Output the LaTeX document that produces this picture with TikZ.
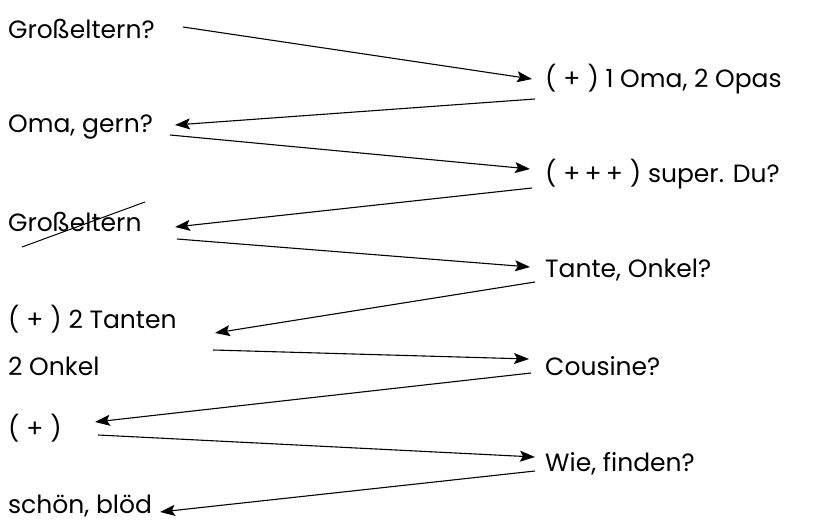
\documentclass[tikz,border=0pt]{standalone}
\usepackage{fontspec}
\setmainfont{Poppins}
\newcommand\pl[1]{(\;#1\;)}
\usetikzlibrary{arrows.meta}

\begin{document}
\begin{tikzpicture}[x=1pt,y=-1pt,
  word/.style={anchor=base west,inner sep=0pt,font=\fontsize{25}{30}\selectfont},
  arr/.style={line width=1.1pt,-{Stealth[length=15pt,width=11pt,inset=3pt]}}]
\useasboundingbox (0,0) rectangle (824,521);
% Left column
\node[word] (gross) at (8,39) {Großeltern?};
\node[word] (omagern) at (8,133) {Oma, gern?};
\node[word] (grossx) at (8,232) {Großeltern};
\node[word] (tanten) at (8,328) {\pl{+} 2 Tanten};
\node[word] (onkel) at (8,375) {2 Onkel};
\node[word] (plus) at (8,437) {\pl{+}};
\node[word] (schoen) at (8,513) {schön, blöd};
% Right column
\node[word] (opas) at (545,88) {\pl{+} 1 Oma, 2 Opas};
\node[word] (super) at (545,183) {\pl{+\,+\,+} super. Du?};
\node[word] (tante) at (545,277) {Tante, Onkel?};
\node[word] (cousine) at (545,375) {Cousine?};
\node[word] (finden) at (545,471) {Wie, finden?};
% Strike out
\draw[line width=1pt] ([shift={(14,15)}]grossx.base west) -- ([shift={(137,-30)}]grossx.base west);
% Draw arrows back and forth
\draw[arr] ([shift={(175,-12)}]gross.base west) -- ([shift={(-13,-9)}]opas.base west);
\draw[arr] ([shift={(-10,11)}]opas.base west) -- ([shift={(167,-8)}]omagern.base west);
\draw[arr] ([shift={(162,2)}]omagern.base west) -- ([shift={(-15,-14)}]super.base west);
\draw[arr] ([shift={(-13,5)}]super.base west) -- ([shift={(167,-5)}]grossx.base west);
\draw[arr] ([shift={(169,7)}]grossx.base west) -- ([shift={(-15,-10)}]tante.base west);
\draw[arr] ([shift={(-10,5)}]tante.base west) -- ([shift={(207,5)}]tanten.base west);
\draw[arr] ([shift={(205,-25)}]onkel.base west) -- ([shift={(-16,-16)}]cousine.base west);
\draw[arr] ([shift={(-14,-2)}]cousine.base west) -- ([shift={(87,-15)}]plus.base west);
\draw[arr] ([shift={(90,-2)}]plus.base west) -- ([shift={(-10,-14)}]finden.base west);
\draw[arr] ([shift={(-10,0)}]finden.base west) -- ([shift={(152,-1)}]schoen.base west);
\end{tikzpicture}
\end{document}
